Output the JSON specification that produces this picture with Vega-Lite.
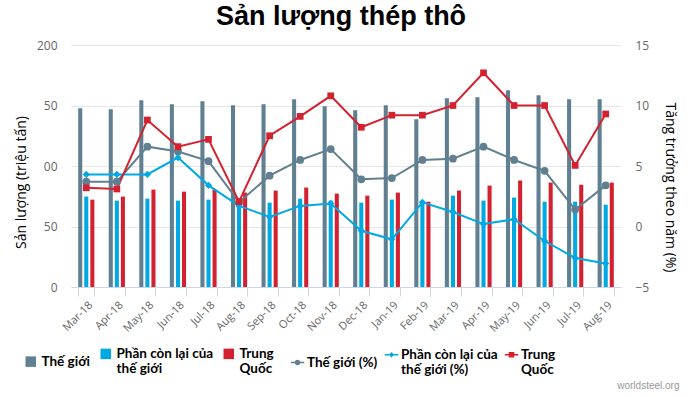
{
  "$schema": "https://vega.github.io/schema/vega-lite/v6.json",
  "width": 550,
  "height": 242,
  "autosize": "none",
  "padding": {"left": 71, "top": 45, "right": 69, "bottom": 110},
  "background": "white",
  "title": {"text": "Sản lượng thép thô", "font": "Liberation Sans", "fontSize": 27, "fontWeight": "bold", "color": "#000000", "anchor": "middle", "dx": -5, "offset": 8},
  "config": {"view": {"stroke": null}, "font": "Open Sans"},
  "datasets": {
    "bars": [
      {"month": "Mar-18", "series": "Thế giới", "value": 147.7},
      {"month": "Apr-18", "series": "Thế giới", "value": 146.9},
      {"month": "May-18", "series": "Thế giới", "value": 154.4},
      {"month": "Jun-18", "series": "Thế giới", "value": 151.0},
      {"month": "Jul-18", "series": "Thế giới", "value": 153.5},
      {"month": "Aug-18", "series": "Thế giới", "value": 150.2},
      {"month": "Sep-18", "series": "Thế giới", "value": 151.0},
      {"month": "Oct-18", "series": "Thế giới", "value": 155.2},
      {"month": "Nov-18", "series": "Thế giới", "value": 149.4},
      {"month": "Dec-18", "series": "Thế giới", "value": 146.0},
      {"month": "Jan-19", "series": "Thế giới", "value": 150.2},
      {"month": "Feb-19", "series": "Thế giới", "value": 138.6},
      {"month": "Mar-19", "series": "Thế giới", "value": 156.0},
      {"month": "Apr-19", "series": "Thế giới", "value": 156.8},
      {"month": "May-19", "series": "Thế giới", "value": 162.7},
      {"month": "Jun-19", "series": "Thế giới", "value": 158.5},
      {"month": "Jul-19", "series": "Thế giới", "value": 155.2},
      {"month": "Aug-19", "series": "Thế giới", "value": 155.2},
      {"month": "Mar-18", "series": "Phần còn lại của thế giới", "value": 74.7},
      {"month": "Apr-18", "series": "Phần còn lại của thế giới", "value": 71.4},
      {"month": "May-18", "series": "Phần còn lại của thế giới", "value": 73.0},
      {"month": "Jun-18", "series": "Phần còn lại của thế giới", "value": 71.4},
      {"month": "Jul-18", "series": "Phần còn lại của thế giới", "value": 72.2},
      {"month": "Aug-18", "series": "Phần còn lại của thế giới", "value": 69.0},
      {"month": "Sep-18", "series": "Phần còn lại của thế giới", "value": 69.7},
      {"month": "Oct-18", "series": "Phần còn lại của thế giới", "value": 73.0},
      {"month": "Nov-18", "series": "Phần còn lại của thế giới", "value": 71.4},
      {"month": "Dec-18", "series": "Phần còn lại của thế giới", "value": 69.7},
      {"month": "Jan-19", "series": "Phần còn lại của thế giới", "value": 72.2},
      {"month": "Feb-19", "series": "Phần còn lại của thế giới", "value": 70.5},
      {"month": "Mar-19", "series": "Phần còn lại của thế giới", "value": 75.5},
      {"month": "Apr-19", "series": "Phần còn lại của thế giới", "value": 71.4},
      {"month": "May-19", "series": "Phần còn lại của thế giới", "value": 73.9},
      {"month": "Jun-19", "series": "Phần còn lại của thế giới", "value": 70.5},
      {"month": "Jul-19", "series": "Phần còn lại của thế giới", "value": 70.5},
      {"month": "Aug-19", "series": "Phần còn lại của thế giới", "value": 68.0},
      {"month": "Mar-18", "series": "Trung Quốc", "value": 72.2},
      {"month": "Apr-18", "series": "Trung Quốc", "value": 74.7},
      {"month": "May-18", "series": "Trung Quốc", "value": 80.5},
      {"month": "Jun-18", "series": "Trung Quốc", "value": 78.8},
      {"month": "Jul-18", "series": "Trung Quốc", "value": 80.5},
      {"month": "Aug-18", "series": "Trung Quốc", "value": 78.0},
      {"month": "Sep-18", "series": "Trung Quốc", "value": 79.7},
      {"month": "Oct-18", "series": "Trung Quốc", "value": 82.2},
      {"month": "Nov-18", "series": "Trung Quốc", "value": 77.2},
      {"month": "Dec-18", "series": "Trung Quốc", "value": 75.5},
      {"month": "Jan-19", "series": "Trung Quốc", "value": 78.0},
      {"month": "Feb-19", "series": "Trung Quốc", "value": 70.5},
      {"month": "Mar-19", "series": "Trung Quốc", "value": 79.7},
      {"month": "Apr-19", "series": "Trung Quốc", "value": 83.8},
      {"month": "May-19", "series": "Trung Quốc", "value": 88.0},
      {"month": "Jun-19", "series": "Trung Quốc", "value": 86.3},
      {"month": "Jul-19", "series": "Trung Quốc", "value": 84.6},
      {"month": "Aug-19", "series": "Trung Quốc", "value": 86.3}
    ],
    "pct": [
      {"month": "Mar-18", "pseries": "Thế giới (%)", "pct": 3.7},
      {"month": "Apr-18", "pseries": "Thế giới (%)", "pct": 3.7},
      {"month": "May-18", "pseries": "Thế giới (%)", "pct": 6.6},
      {"month": "Jun-18", "pseries": "Thế giới (%)", "pct": 6.2},
      {"month": "Jul-18", "pseries": "Thế giới (%)", "pct": 5.4},
      {"month": "Aug-18", "pseries": "Thế giới (%)", "pct": 2.0},
      {"month": "Sep-18", "pseries": "Thế giới (%)", "pct": 4.2},
      {"month": "Oct-18", "pseries": "Thế giới (%)", "pct": 5.5},
      {"month": "Nov-18", "pseries": "Thế giới (%)", "pct": 6.4},
      {"month": "Dec-18", "pseries": "Thế giới (%)", "pct": 3.9},
      {"month": "Jan-19", "pseries": "Thế giới (%)", "pct": 4.0},
      {"month": "Feb-19", "pseries": "Thế giới (%)", "pct": 5.5},
      {"month": "Mar-19", "pseries": "Thế giới (%)", "pct": 5.6},
      {"month": "Apr-19", "pseries": "Thế giới (%)", "pct": 6.6},
      {"month": "May-19", "pseries": "Thế giới (%)", "pct": 5.5},
      {"month": "Jun-19", "pseries": "Thế giới (%)", "pct": 4.6},
      {"month": "Jul-19", "pseries": "Thế giới (%)", "pct": 1.4},
      {"month": "Aug-19", "pseries": "Thế giới (%)", "pct": 3.4},
      {"month": "Mar-18", "pseries": "Phần còn lại của thế giới (%)", "pct": 4.3},
      {"month": "Apr-18", "pseries": "Phần còn lại của thế giới (%)", "pct": 4.3},
      {"month": "May-18", "pseries": "Phần còn lại của thế giới (%)", "pct": 4.3},
      {"month": "Jun-18", "pseries": "Phần còn lại của thế giới (%)", "pct": 5.7},
      {"month": "Jul-18", "pseries": "Phần còn lại của thế giới (%)", "pct": 3.4},
      {"month": "Aug-18", "pseries": "Phần còn lại của thế giới (%)", "pct": 1.7},
      {"month": "Sep-18", "pseries": "Phần còn lại của thế giới (%)", "pct": 0.8},
      {"month": "Oct-18", "pseries": "Phần còn lại của thế giới (%)", "pct": 1.7},
      {"month": "Nov-18", "pseries": "Phần còn lại của thế giới (%)", "pct": 1.9},
      {"month": "Dec-18", "pseries": "Phần còn lại của thế giới (%)", "pct": -0.35},
      {"month": "Jan-19", "pseries": "Phần còn lại của thế giới (%)", "pct": -1.06},
      {"month": "Feb-19", "pseries": "Phần còn lại của thế giới (%)", "pct": 2.0},
      {"month": "Mar-19", "pseries": "Phần còn lại của thế giới (%)", "pct": 1.2},
      {"month": "Apr-19", "pseries": "Phần còn lại của thế giới (%)", "pct": 0.2},
      {"month": "May-19", "pseries": "Phần còn lại của thế giới (%)", "pct": 0.6},
      {"month": "Jun-19", "pseries": "Phần còn lại của thế giới (%)", "pct": -1.2},
      {"month": "Jul-19", "pseries": "Phần còn lại của thế giới (%)", "pct": -2.6},
      {"month": "Aug-19", "pseries": "Phần còn lại của thế giới (%)", "pct": -3.05},
      {"month": "Mar-18", "pseries": "Trung Quốc", "pct": 3.2},
      {"month": "Apr-18", "pseries": "Trung Quốc", "pct": 3.1},
      {"month": "May-18", "pseries": "Trung Quốc", "pct": 8.8},
      {"month": "Jun-18", "pseries": "Trung Quốc", "pct": 6.6},
      {"month": "Jul-18", "pseries": "Trung Quốc", "pct": 7.2},
      {"month": "Aug-18", "pseries": "Trung Quốc", "pct": 2.06},
      {"month": "Sep-18", "pseries": "Trung Quốc", "pct": 7.5},
      {"month": "Oct-18", "pseries": "Trung Quốc", "pct": 9.1},
      {"month": "Nov-18", "pseries": "Trung Quốc", "pct": 10.8},
      {"month": "Dec-18", "pseries": "Trung Quốc", "pct": 8.2},
      {"month": "Jan-19", "pseries": "Trung Quốc", "pct": 9.2},
      {"month": "Feb-19", "pseries": "Trung Quốc", "pct": 9.2},
      {"month": "Mar-19", "pseries": "Trung Quốc", "pct": 10.0},
      {"month": "Apr-19", "pseries": "Trung Quốc", "pct": 12.7},
      {"month": "May-19", "pseries": "Trung Quốc", "pct": 10.0},
      {"month": "Jun-19", "pseries": "Trung Quốc", "pct": 10.0},
      {"month": "Jul-19", "pseries": "Trung Quốc", "pct": 5.05},
      {"month": "Aug-19", "pseries": "Trung Quốc", "pct": 9.3}
    ]
  },
  "layer": [
    {
      "data": {"name": "bars"},
      "mark": {"type": "bar"},
      "encoding": {
        "x": {
          "field": "month", "type": "nominal",
          "sort": ["Mar-18","Apr-18","May-18","Jun-18","Jul-18","Aug-18","Sep-18","Oct-18","Nov-18","Dec-18","Jan-19","Feb-19","Mar-19","Apr-19","May-19","Jun-19","Jul-19","Aug-19"],
          "scale": {"paddingInner": 0.47, "paddingOuter": 0.235},
          "axis": {
            "title": "worldsteel.org", "titleFont": "Liberation Sans", "titleFontSize": 10, "titleFontWeight": "normal", "titleColor": "#999999",
            "titleAnchor": "end", "titleAlign": "right", "titleX": 608, "titleY": 98, "titleBaseline": "middle",
            "labelAngle": -45, "labelColor": "#666666", "labelFontSize": 11, "labelPadding": 3,
            "tickBand": "extent", "tickSize": 9, "tickColor": "#ccd6eb", "domainColor": "#ccd6eb", "grid": false
          }
        },
        "xOffset": {"field": "series", "type": "nominal", "sort": ["Thế giới","Phần còn lại của thế giới","Trung Quốc"], "scale": {"paddingInner": 0.33, "paddingOuter": 0}},
        "y": {
          "field": "value", "type": "quantitative",
          "scale": {"domain": [0, 200], "nice": false},
          "axis": {
            "values": [0, 50, 100, 150, 200],
            "labelExpr": "datum.value == 100 ? '00' : datum.value == 150 ? '50' : datum.label",
            "title": "Sản lượng (triệu tấn)", "titleFontSize": 14, "titleFontWeight": "normal", "titleColor": "#000000", "titleY": 137, "titlePadding": 8,
            "labelColor": "#666666", "labelFontSize": 12, "labelPadding": 14,
            "domain": false, "ticks": false, "grid": true, "gridColor": "#e6e6e6"
          }
        },
        "color": {
          "field": "series", "type": "nominal",
          "scale": {"domain": ["Thế giới","Phần còn lại của thế giới","Trung Quốc"], "range": ["#607f90","#00a9e3","#d3212f"]},
          "legend": {
            "title": null, "orient": "none", "direction": "horizontal", "legendX": -47, "legendY": 302,
            "symbolType": "square", "symbolSize": 110, "symbolOpacity": 1,
            "labelFont": "Lato", "labelFontSize": 13.5, "labelFontWeight": "bold", "labelColor": "#000000",
            "labelOffset": 4, "columnPadding": 8, "labelLimit": 200,
            "labelExpr": "datum.label == 'Phần còn lại của thế giới' ? ['Phần còn lại của', 'thế giới'] : datum.label == 'Trung Quốc' ? ['Trung', 'Quốc'] : datum.label"
          }
        }
      }
    },
    {
      "data": {"name": "pct"},
      "layer": [
        {
          "mark": {"type": "line", "strokeWidth": 2},
          "encoding": {
            "x": {"field": "month", "type": "nominal", "sort": ["Mar-18","Apr-18","May-18","Jun-18","Jul-18","Aug-18","Sep-18","Oct-18","Nov-18","Dec-18","Jan-19","Feb-19","Mar-19","Apr-19","May-19","Jun-19","Jul-19","Aug-19"]},
            "y": {
              "field": "pct", "type": "quantitative",
              "scale": {"domain": [-5, 15], "nice": false},
              "axis": {
                "orient": "right", "values": [-5, 0, 5, 10, 15],
                "title": "Tăng trưởng theo năm (%)", "titleFontSize": 14, "titleFontWeight": "normal", "titleColor": "#000000", "titleY": 142, "titlePadding": 14,
                "labelColor": "#666666", "labelFontSize": 12, "labelPadding": 14,
                "domain": false, "ticks": false, "grid": false
              }
            },
            "color": {
              "field": "pseries", "type": "nominal",
              "scale": {"domain": ["Thế giới (%)","Phần còn lại của thế giới (%)","Trung Quốc"], "range": ["#607f90","#00a9e3","#d3212f"]},
              "legend": null
            }
          }
        },
        {
          "mark": {"type": "point", "filled": true, "opacity": 1},
          "encoding": {
            "x": {"field": "month", "type": "nominal", "sort": ["Mar-18","Apr-18","May-18","Jun-18","Jul-18","Aug-18","Sep-18","Oct-18","Nov-18","Dec-18","Jan-19","Feb-19","Mar-19","Apr-19","May-19","Jun-19","Jul-19","Aug-19"]},
            "y": {"field": "pct", "type": "quantitative"},
            "color": {
              "field": "pseries", "type": "nominal",
              "scale": {"domain": ["Thế giới (%)","Phần còn lại của thế giới (%)","Trung Quốc"], "range": ["#607f90","#00a9e3","#d3212f"]},
              "legend": null
            },
            "shape": {
              "field": "pseries", "type": "nominal",
              "scale": {"domain": ["Thế giới (%)","Phần còn lại của thế giới (%)","Trung Quốc"], "range": ["circle","diamond","square"]},
              "legend": null
            },
            "size": {
              "field": "pseries", "type": "nominal",
              "scale": {"domain": ["Thế giới (%)","Phần còn lại của thế giới (%)","Trung Quốc"], "range": [60, 45, 85]},
              "legend": null
            }
          }
        },
        {
          "transform": [{"filter": "datum.pct > 1000"}],
          "mark": {"type": "point", "filled": true, "opacity": 1},
          "encoding": {
            "x": {"field": "month", "type": "nominal", "sort": ["Mar-18","Apr-18","May-18","Jun-18","Jul-18","Aug-18","Sep-18","Oct-18","Nov-18","Dec-18","Jan-19","Feb-19","Mar-19","Apr-19","May-19","Jun-19","Jul-19","Aug-19"]},
            "y": {"field": "pct", "type": "quantitative"},
            "color": {
              "field": "pseries", "type": "nominal",
              "scale": {"domain": ["Thế giới (%)","Phần còn lại của thế giới (%)","Trung Quốc"], "range": ["#607f90","#00a9e3","#d3212f"]},
              "legend": {
                "title": null, "orient": "none", "direction": "horizontal", "legendX": 219, "legendY": 302,
                "symbolSize": 180,
                "labelFont": "Lato", "labelFontSize": 13.5, "labelFontWeight": "bold", "labelColor": "#000000",
                "labelOffset": 2, "columnPadding": 6, "labelLimit": 200,
                "labelExpr": "datum.label == 'Phần còn lại của thế giới (%)' ? ['Phần còn lại của', 'thế giới (%)'] : datum.label == 'Trung Quốc' ? ['Trung', 'Quốc'] : datum.label"
              }
            },
            "shape": {
              "field": "pseries", "type": "nominal",
              "scale": {"domain": ["Thế giới (%)","Phần còn lại của thế giới (%)","Trung Quốc"], "range": [
                "M-1,-0.12H-0.3V0.12H-1Z M0.3,-0.12H1V0.12H0.3Z M0.42,0A0.42,0.42 0 1,1 -0.42,0A0.42,0.42 0 1,1 0.42,0Z",
                "M-1,-0.1H-0.3V0.1H-1Z M0.3,-0.1H1V0.1H0.3Z M0,-0.4L0.4,0L0,0.4L-0.4,0Z",
                "M-1,-0.12H-0.3V0.12H-1Z M0.3,-0.12H1V0.12H0.3Z M-0.42,-0.42H0.42V0.42H-0.42Z"
              ]},
              "legend": {
                "title": null, "orient": "none", "direction": "horizontal", "legendX": 219, "legendY": 302,
                "symbolSize": 180,
                "labelFont": "Lato", "labelFontSize": 13.5, "labelFontWeight": "bold", "labelColor": "#000000",
                "labelOffset": 2, "columnPadding": 6, "labelLimit": 200,
                "labelExpr": "datum.label == 'Phần còn lại của thế giới (%)' ? ['Phần còn lại của', 'thế giới (%)'] : datum.label == 'Trung Quốc' ? ['Trung', 'Quốc'] : datum.label"
              }
            }
          }
        }
      ],
      "resolve": {"scale": {"shape": "independent", "color": "independent"}}
    }
  ],
  "resolve": {"scale": {"y": "independent", "color": "independent"}}
}
